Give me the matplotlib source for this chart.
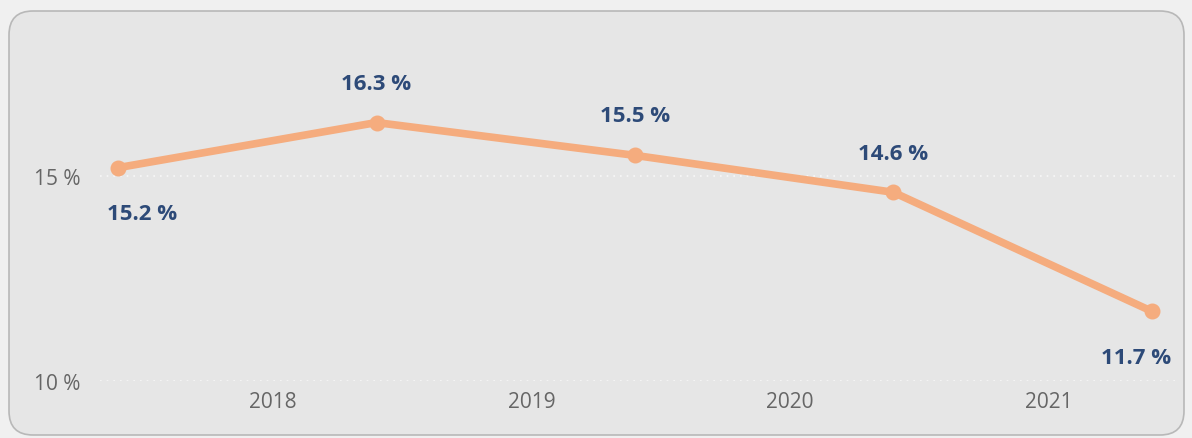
import matplotlib
matplotlib.use("Agg")
import matplotlib.pyplot as plt
from matplotlib.patches import FancyBboxPatch

categories = ["2018", "2019", "2020", "2021"]
values = [15.2, 16.3, 15.5, 14.6, 11.7]
value_labels = ["15.2 %", "16.3 %", "15.5 %", "14.6 %", "11.7 %"]
y_ticks = [10, 15]
y_tick_labels = ["10 %", "15 %"]

plt.rcParams['font.family'] = ['Open Sans', 'DejaVu Sans']

fig = plt.figure(figsize=(11.92, 4.39), dpi=100)
fig.patch.set_facecolor('#f0f0f0')

W, H = 1192, 439
bg = fig.add_axes([0, 0, 1, 1])
bg.set_xlim(0, W)
bg.set_ylim(H, 0)
bg.axis('off')
bg.add_patch(FancyBboxPatch((9, 12), 1175, 424,
                            boxstyle="round,pad=0,rounding_size=24",
                            facecolor='#e6e6e6', edgecolor='#b8b8b8', linewidth=1.2))

ax = fig.add_axes([100 / W, (H - 382) / H, 1075 / W, 320 / H])
ax.set_facecolor('none')
for s in ax.spines.values():
    s.set_visible(False)

xs = list(range(len(values)))
ax.plot(xs, values, color='#f5ac7e', linewidth=5.5, marker='o', markersize=10.5,
        solid_capstyle='round', zorder=3)

ax.set_xlim(-0.07, 4.09)
ax.set_ylim(10, 17.8)
ax.set_yticks(y_ticks)
ax.set_yticklabels(y_tick_labels, fontsize=15, color='#666666')
ax.set_xticks([i + 0.6 for i in range(len(categories))])
ax.set_xticklabels(categories, fontsize=15, color='#666666')
ax.tick_params(length=0, pad=14, axis='y')
ax.tick_params(length=0, pad=7, axis='x')
ax.grid(axis='y', color='#f7f7f7', linestyle=(0, (1, 3)), linewidth=1.2)
ax.set_axisbelow(True)

offsets = [(17, -33), (0, 28), (0, 29), (0, 28), (-11, -33)]
for x, v, lab, off in zip(xs, values, value_labels, offsets):
    ax.annotate(lab, (x, v), xytext=off, textcoords='offset points',
                ha='center', va='center', fontsize=16, fontweight='bold',
                color='#2d4a78')

fig.savefig('out.png', dpi=100, facecolor=fig.get_facecolor())
